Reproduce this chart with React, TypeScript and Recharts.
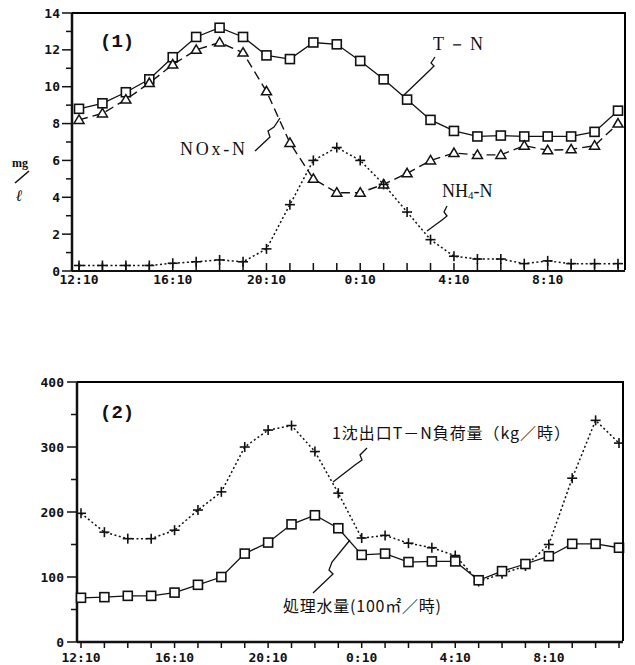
import { LineChart, Line, XAxis, YAxis } from "recharts";

const hours = [
  "12:10", "13:10", "14:10", "15:10", "16:10", "17:10", "18:10", "19:10",
  "20:10", "21:10", "22:10", "23:10", "0:10", "1:10", "2:10", "3:10",
  "4:10", "5:10", "6:10", "7:10", "8:10", "9:10", "10:10", "11:10",
];
const labeledHours = ["12:10", "16:10", "20:10", "0:10", "4:10", "8:10"];

// (1) mg/l
const tn = [8.8, 9.1, 9.7, 10.4, 11.6, 12.7, 13.2, 12.7, 11.7, 11.5, 12.4, 12.3, 11.4, 10.4, 9.3, 8.2, 7.6, 7.3, 7.35, 7.3, 7.3, 7.3, 7.55, 8.7];
const nox = [8.2, 8.55, 9.3, 10.2, 11.2, 12.0, 12.4, 11.85, 9.75, 6.95, 5.0, 4.25, 4.25, 4.7, 5.3, 6.0, 6.4, 6.3, 6.3, 6.8, 6.55, 6.6, 6.8, 8.0];
const nh4 = [0.3, 0.3, 0.3, 0.3, 0.42, 0.5, 0.6, 0.5, 1.2, 3.6, 6.0, 6.7, 6.0, 4.7, 3.2, 1.7, 0.8, 0.65, 0.65, 0.4, 0.55, 0.4, 0.4, 0.4];

// (2)
const load = [198, 169, 159, 159, 172, 203, 231, 300, 326, 333, 293, 229, 160, 164, 152, 145, 133, 93, 105, 117, 150, 252, 341, 306];
const flow = [68, 69, 71, 71, 76, 88, 100, 136, 153, 181, 195, 175, 134, 136, 123, 124, 124, 95, 109, 120, 132, 151, 151, 145];

const yTicks1 = [0, 1, 2, 3, 4, 5, 6, 7, 8, 9, 10, 11, 12, 13, 14];
const yTicks2 = [0, 50, 100, 150, 200, 250, 300, 350, 400];

const data1 = hours.map((t, i) => ({ t, tn: tn[i], nox: nox[i], nh4: nh4[i] }));
const data2 = hours.map((t, i) => ({ t, load: load[i], flow: flow[i] }));

const INK = "#111";
const tickFont = "'DejaVu Sans Mono', monospace";
const serif = "'Liberation Serif', 'DejaVu Serif', serif";
const jp = "'Noto Sans CJK JP', sans-serif";

// chart boxes (px); plot frame follows from size and margins
const W = 635;
const H1 = 300, M1 = { top: 13, right: 10, left: 0, bottom: 0 }, YW1 = 72, XH1 = 29;
const TOP2 = 360, H2 = 305, M2 = { top: 22, right: 12, left: 0, bottom: 0 }, YW2 = 77, XH2 = 23;

function SquareDot(props: any) {
  const { cx, cy, index } = props;
  if (cx == null || cy == null) return <g key={index} />;
  return <rect key={index} x={cx - 4.5} y={cy - 4.5} width={9} height={9} fill="#fff" stroke={INK} strokeWidth={1.6} />;
}

function TriDot(props: any) {
  const { cx, cy, index } = props;
  if (cx == null || cy == null) return <g key={index} />;
  return <path key={index} d={`M${cx},${cy - 5} L${cx + 5},${cy + 3.5} L${cx - 5},${cy + 3.5} Z`} fill="#fff" stroke={INK} strokeWidth={1.5} />;
}

function PlusDot(props: any) {
  const { cx, cy, index } = props;
  if (cx == null || cy == null) return <g key={index} />;
  return (
    <g key={index} stroke={INK} strokeWidth={1.6}>
      <line x1={cx - 5} x2={cx + 5} y1={cy} y2={cy} />
      <line x1={cx} x2={cx} y1={cy - 5} y2={cy + 5} />
    </g>
  );
}

function makeXTick(up: boolean, labelDy: number) {
  return (props: any) => {
    const { x, y, payload } = props;
    const show = labeledHours.includes(payload.value);
    return (
      <g>
        <line x1={x} x2={x} y1={up ? y - 8 : y} y2={up ? y : y + 6} stroke={INK} strokeWidth={1.5} />
        {show && (
          <text x={x} y={y + labelDy} textAnchor="middle" fontFamily={tickFont} fontWeight="bold" fontSize={13} fill={INK}>
            {payload.value}
          </text>
        )}
      </g>
    );
  };
}

function makeYTick(step: number, gap: number) {
  return (props: any) => {
    const { x, y, payload } = props;
    const major = payload.value % step === 0;
    return (
      <g>
        <line x1={x - (major ? 10 : 6)} x2={x} y1={y} y2={y} stroke={INK} strokeWidth={1.5} />
        {major && (
          <text x={x - gap} y={y} dy="0.35em" textAnchor="end" fontFamily={tickFont} fontWeight="bold" fontSize={13} fill={INK}>
            {payload.value}
          </text>
        )}
      </g>
    );
  };
}

// top + right edge of the plot box as a plain bordered div
function FrameBox({ x, y, w, h }: { x: number; y: number; w: number; h: number }) {
  return (
    <div style={{
      position: "absolute", left: x, top: y - 1, width: w, height: h,
      borderTop: "2px solid #000", borderRight: "2px solid #000", boxSizing: "border-box",
      pointerEvents: "none", zIndex: 2,
    }} />
  );
}

export default function App() {
  const f1 = { x: YW1, y: M1.top, w: W - YW1 - M1.right + 1, h: H1 - M1.top - XH1 };
  const f2 = { x: YW2, y: TOP2 + M2.top, w: W - YW2 - M2.right + 1, h: H2 - M2.top - XH2 };
  return (
    <div style={{ position: "absolute", left: 0, top: 0, width: 635, height: 665, background: "#fff" }}>
      <div style={{ position: "absolute", left: 0, top: 0 }}>
        <LineChart width={W} height={H1} data={data1} margin={M1}>
          <XAxis dataKey="t" interval={0} padding={{ left: 7, right: 7 }} height={XH1} tickSize={0} tickMargin={0}
            tick={makeXTick(true, 13)} tickLine={false} axisLine={{ stroke: INK, strokeWidth: 2 }} />
          <YAxis domain={[0, 14]} ticks={yTicks1} interval={0} width={YW1} tickSize={0} tickMargin={0}
            tick={makeYTick(2, 12)} tickLine={false} axisLine={{ stroke: INK, strokeWidth: 2.5 }} />
          <Line dataKey="tn" stroke={INK} strokeWidth={1.3} dot={SquareDot} isAnimationActive={false} />
          <Line dataKey="nox" stroke={INK} strokeWidth={1.4} strokeDasharray="9 5" dot={TriDot} isAnimationActive={false} />
          <Line dataKey="nh4" stroke={INK} strokeWidth={1.5} strokeDasharray="2 2.5" dot={PlusDot} isAnimationActive={false} />
        </LineChart>
      </div>
      <div style={{ position: "absolute", left: 0, top: TOP2 }}>
        <LineChart width={W} height={H2} data={data2} margin={M2}>
          <XAxis dataKey="t" interval={0} padding={{ left: 4, right: 4 }} height={XH2} tickSize={0} tickMargin={0}
            tick={makeXTick(false, 20)} tickLine={false} axisLine={{ stroke: INK, strokeWidth: 2.5 }} />
          <YAxis domain={[0, 400]} ticks={yTicks2} interval={0} width={YW2} tickSize={0} tickMargin={0}
            tick={makeYTick(100, 13)} tickLine={false} axisLine={{ stroke: INK, strokeWidth: 2.5 }} />
          <Line dataKey="load" stroke={INK} strokeWidth={1.5} strokeDasharray="2 2.5" dot={PlusDot} isAnimationActive={false} />
          <Line dataKey="flow" stroke={INK} strokeWidth={1.3} dot={SquareDot} isAnimationActive={false} />
        </LineChart>
      </div>
      <FrameBox {...f1} />
      <FrameBox {...f2} />
      <svg width={635} height={665} style={{ position: "absolute", left: 0, top: 0, pointerEvents: "none" }}>
        <g fill={INK}>
          <text x={100} y={47} fontFamily="'Liberation Mono', monospace" fontWeight="bold" fontSize={19}>(1)</text>
          <text x={433} y={50} fontFamily={serif} fontSize={18} textLength={50}>T－N</text>
          <text x={180} y={155} fontFamily={serif} fontSize={18} textLength={65}>NOx-N</text>
          <text x={442} y={197} fontFamily={serif} fontSize={18}>
            NH<tspan fontSize={11} dy={2}>4</tspan><tspan dy={-2}>-N</tspan>
          </text>
          <text x={12} y={167} fontFamily={serif} fontWeight="bold" fontSize={12}>mg</text>
          <text x={16} y={201} fontFamily={serif} fontStyle="italic" fontWeight="bold" fontSize={16}>ℓ</text>
          <text x={100} y={418} fontFamily="'Liberation Mono', monospace" fontWeight="bold" fontSize={19}>(2)</text>
          <text x={332} y={439} fontFamily={jp} fontSize={16} textLength={238}>1沈出口T－N負荷量（kg／時）</text>
          <text x={283} y={612} fontFamily={jp} fontSize={16} textLength={158}>処理水量(100㎡／時)</text>
        </g>
        <g stroke={INK} strokeWidth={1.3} fill="none">
          <line x1={29} y1={171} x2={15} y2={183} strokeWidth={1.6} />
          <path d="M435,57 L431,63 L434,66 L429,71 L404,95" />
          <path d="M255,151 L270,137 L268,131 L274,127 L280,118" />
          <path d="M447,206 L444,212 L447,216 L442,220 L427,231" />
          <path d="M367,448 L360,455 L362,460 L355,465 L333,482" />
          <path d="M350,540 L332,562 L329,570 L333,574 L313,593" />
        </g>
      </svg>
    </div>
  );
}
